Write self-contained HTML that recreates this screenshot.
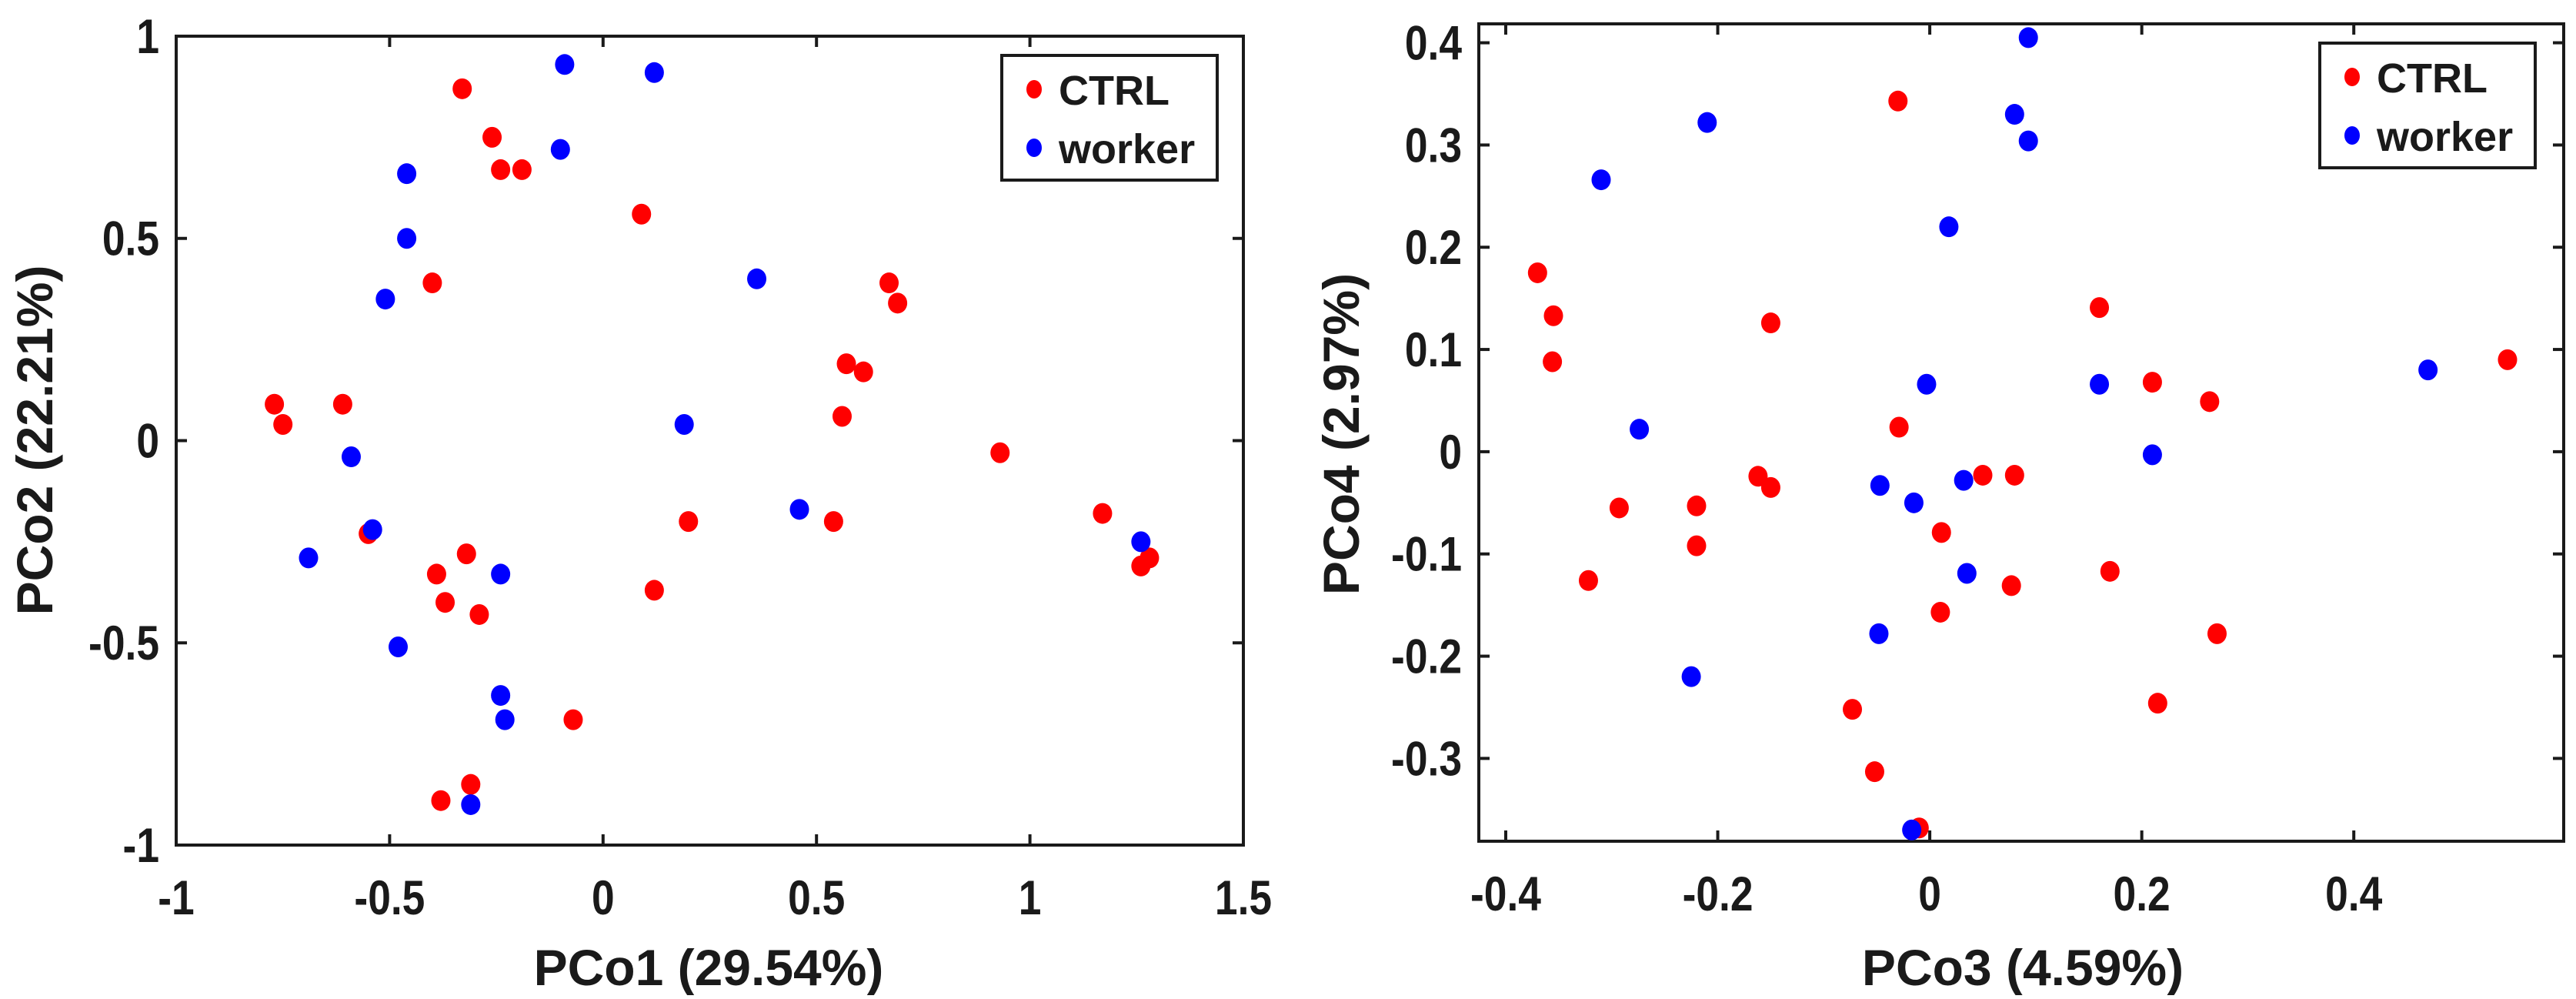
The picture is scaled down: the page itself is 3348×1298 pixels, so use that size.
<!DOCTYPE html>
<html><head><meta charset="utf-8"><style>
body{margin:0;background:#fff}
svg text{font-family:"Liberation Sans",Arial,sans-serif;font-weight:bold;fill:#1a1a1a}
</style></head><body>
<svg id="s" width="3348" height="1293" viewBox="0 0 3348 1293" xmlns="http://www.w3.org/2000/svg"></svg>
<script>
const leftCtrlX=[-0.33,-0.26,-0.24,-0.19,0.09,-0.4,0.67,0.69,0.57,0.61,-0.77,-0.75,-0.61,0.56,0.93,1.17,0.2,0.54,-0.55,-0.32,-0.39,-0.37,-0.29,0.12,1.26,1.28,-0.07,-0.31,-0.38];
const leftCtrlY=[0.87,0.75,0.67,0.67,0.56,0.39,0.39,0.34,0.19,0.17,0.09,0.04,0.09,0.06,-0.03,-0.18,-0.2,-0.2,-0.23,-0.28,-0.33,-0.4,-0.43,-0.37,-0.31,-0.29,-0.69,-0.85,-0.89];
const leftWorkerX=[-0.09,0.12,-0.1,-0.46,-0.46,-0.51,0.36,0.19,-0.59,0.46,-0.54,-0.69,-0.24,1.26,-0.48,-0.24,-0.23,-0.31];
const leftWorkerY=[0.93,0.91,0.72,0.66,0.5,0.35,0.4,0.04,-0.04,-0.17,-0.22,-0.29,-0.33,-0.25,-0.51,-0.63,-0.69,-0.9];
const rightCtrlX=[-0.03,-0.37,-0.355,-0.356,-0.15,0.16,0.21,0.264,0.545,-0.029,-0.162,-0.15,-0.293,-0.22,-0.22,-0.322,0.05,0.08,0.011,0.077,0.17,0.01,0.271,0.215,-0.073,-0.052,-0.01];
const rightCtrlY=[0.343,0.175,0.133,0.088,0.126,0.141,0.068,0.049,0.09,0.024,-0.024,-0.035,-0.055,-0.053,-0.092,-0.126,-0.023,-0.023,-0.079,-0.131,-0.117,-0.157,-0.178,-0.246,-0.252,-0.313,-0.368];
const rightWorkerX=[0.093,0.08,0.093,-0.21,-0.31,0.018,-0.003,0.16,0.47,-0.274,0.21,-0.047,-0.015,0.032,0.035,-0.048,-0.225,-0.017];
const rightWorkerY=[0.405,0.33,0.304,0.322,0.266,0.22,0.066,0.066,0.08,0.022,-0.003,-0.033,-0.05,-0.028,-0.119,-0.178,-0.22,-0.37];
const leftXTicks=[-1,-0.5,0,0.5,1,1.5];
const leftYTicks=[-1,-0.5,0,0.5,1];
const rightXTicks=[-0.4,-0.2,0,0.2,0.4];
const rightYTicks=[-0.3,-0.2,-0.1,0,0.1,0.2,0.3,0.4];

const NS="http://www.w3.org/2000/svg";
const svg=document.getElementById('s');
function mk(tag,attrs,parent){const e=document.createElementNS(NS,tag);for(const k in attrs)e.setAttribute(k,attrs[k]);(parent||svg).appendChild(e);return e;}
function fmt(v){if(v===0)return '0';return String(v);}

function panel(o){
  const g=mk('g',{});
  
  
  const sx=v=>o.L+(v-o.x0)/(o.x1-o.x0)*(o.R-o.L);
  const sy=v=>o.B-(v-o.y0)/(o.y1-o.y0)*(o.B-o.T);
  const r=mk('rect',{x:o.L,y:o.T,width:o.R-o.L,height:o.B-o.T,fill:'#fff',stroke:'#1a1a1a','stroke-width':4},g);
  
  
  const tl=14;
  o.xt.forEach(t=>{const x=sx(t);
    mk('line',{x1:x,x2:x,y1:o.B,y2:o.B-tl,stroke:'#1a1a1a','stroke-width':4},g);
    mk('line',{x1:x,x2:x,y1:o.T,y2:o.T+tl,stroke:'#1a1a1a','stroke-width':4},g);
    const tx=mk('text',{x:x,y:o.B+90,'font-size':58,'text-anchor':'middle',transform:`translate(${x},${o.B+90}) scale(0.92,1.08) translate(${-x},${-(o.B+90)})`},g);tx.textContent=fmt(t);
    
    
  });
  o.yt.forEach(t=>{const y=sy(t);
    mk('line',{x1:o.L,x2:o.L+tl,y1:y,y2:y,stroke:'#1a1a1a','stroke-width':4},g);
    mk('line',{x1:o.R,x2:o.R-tl,y1:y,y2:y,stroke:'#1a1a1a','stroke-width':4},g);
    const bx=o.L-22, by=y+22;
    const tx=mk('text',{x:bx,y:by,'font-size':58,'text-anchor':'end',transform:`translate(${bx},${by}) scale(0.92,1.08) translate(${-bx},${-by})`},g);tx.textContent=fmt(t);
    
    
  });
  const series=[[o.cx,o.cy,'#ff0000','ctrl-point'],[o.wx,o.wy,'#0000ff','worker-point']];
  series.forEach(([xs,ys,c,n])=>{xs.forEach((v,i)=>{
    const e=mk('ellipse',{cx:sx(v),cy:sy(ys[i]),rx:12.5,ry:13.5,fill:c},g);
    
    
  });});
  const xl=mk('text',{x:o.xlx,y:1280,'font-size':66,'text-anchor':'middle'},g);xl.textContent=o.xlabel;
  
  
  const yl=mk('text',{x:0,y:0,'font-size':66,'text-anchor':'middle',transform:`translate(${o.ylx},${o.yly}) rotate(-90)`},g);yl.textContent=o.ylabel;
  
  
  const lg=mk('g',{},g);
  
  
  mk('rect',{x:o.lgx,y:o.lgy,width:280,height:162,fill:'#fff',stroke:'#1a1a1a','stroke-width':4},lg);
  [['CTRL','#ff0000',44],['worker','#0000ff',120]].forEach(([t,c,dy])=>{
    const e=mk('g',{},lg);
    
    
    mk('ellipse',{cx:o.lgx+42,cy:o.lgy+dy,rx:10,ry:12,fill:c},e);
    const tx=mk('text',{x:o.lgx+74,y:o.lgy+dy+20,'font-size':54},e);tx.textContent=t;
  });
}
panel({name:'left-scatter',L:229,R:1616,T:47,B:1098,x0:-1,x1:1.5,y0:-1,y1:1,xt:leftXTicks,yt:leftYTicks,
  cx:leftCtrlX,cy:leftCtrlY,wx:leftWorkerX,wy:leftWorkerY,xlabel:'PCo1 (29.54%)',ylabel:'PCo2 (22.21%)',xlx:921,ylx:68,yly:572,lgx:1302,lgy:72});
panel({name:'right-scatter',L:1922,R:3332,T:31,B:1093,x0:-0.4254,x1:0.598,y0:-0.381,y1:0.4185,xt:rightXTicks,yt:rightYTicks,
  cx:rightCtrlX,cy:rightCtrlY,wx:rightWorkerX,wy:rightWorkerY,xlabel:'PCo3 (4.59%)',ylabel:'PCo4 (2.97%)',xlx:2629,ylx:1766,yly:564,lgx:3015,lgy:56});
</script>
</body></html>
